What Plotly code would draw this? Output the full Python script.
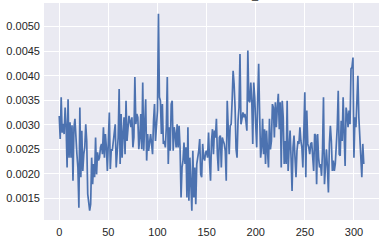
import plotly.graph_objects as go

seg1 = [0.00318, 0.00271, 0.00356, 0.00284, 0.00302, 0.00281, 0.00335, 0.00298, 0.00213, 0.00352,
        0.00233, 0.00305, 0.00233, 0.00299, 0.00186, 0.00295, 0.00312, 0.00254, 0.00240, 0.00213,
        0.00131, 0.00335, 0.00193, 0.00288, 0.00206, 0.00240, 0.00254, 0.00301, 0.00267, 0.00159,
        0.00145, 0.00125, 0.00138, 0.00233, 0.00179, 0.00220]
seg2 = [0.00193, 0.00274, 0.00199, 0.00244, 0.00227, 0.00233, 0.00254, 0.00261, 0.00240, 0.00295,
        0.00233, 0.00281, 0.00254, 0.00206, 0.00267, 0.00325, 0.00210, 0.00250, 0.00247, 0.00267,
        0.00281, 0.00301, 0.00213, 0.00254, 0.00274, 0.00373, 0.00220, 0.00322, 0.00233, 0.00281,
        0.00315, 0.00240, 0.00349, 0.00267, 0.00295, 0.00318, 0.00308, 0.00295, 0.00315, 0.00254,
        0.00274, 0.00397, 0.00301, 0.00322, 0.00315, 0.00250, 0.00274]
seg3 = [0.00322, 0.00250, 0.00386, 0.00247, 0.00295, 0.00352, 0.00227, 0.00281, 0.00247, 0.00274,
        0.00281, 0.00261, 0.00240, 0.00308, 0.00342, 0.00267, 0.00301, 0.00329, 0.00526, 0.00356,
        0.00349, 0.00281, 0.00342, 0.00261, 0.00267, 0.00254, 0.00295, 0.00397, 0.00220, 0.00295,
        0.00247, 0.00342, 0.00349, 0.00247, 0.00295, 0.00281, 0.00254, 0.00301, 0.00254, 0.00298,
        0.00254, 0.00152, 0.00213, 0.00227, 0.00264, 0.00220, 0.00254, 0.00152, 0.00295]
seg4 = [0.00145, 0.00233, 0.00172, 0.00125, 0.00247, 0.00152, 0.00213, 0.00138, 0.00220, 0.00233,
        0.00247, 0.00271, 0.00199, 0.00193, 0.00261, 0.00233, 0.00227, 0.00244, 0.00247, 0.00233,
        0.00284, 0.00227, 0.00186, 0.00267, 0.00291, 0.00240, 0.00288, 0.00274, 0.00312, 0.00240,
        0.00206, 0.00274, 0.00278, 0.00213, 0.00274, 0.00267, 0.00261, 0.00247, 0.00186, 0.00349,
        0.00281, 0.00240, 0.00298, 0.00301, 0.00349, 0.00410, 0.00383, 0.00335, 0.00250]
seg5 = [0.00233, 0.00308, 0.00335, 0.00444, 0.00301, 0.00312, 0.00325, 0.00315, 0.00322, 0.00308,
        0.00288, 0.00451, 0.00349, 0.00346, 0.00386, 0.00349, 0.00261, 0.00386, 0.00356, 0.00301,
        0.00254, 0.00349, 0.00424, 0.00322, 0.00233, 0.00254, 0.00312, 0.00240, 0.00291, 0.00220,
        0.00288, 0.00247, 0.00213, 0.00312, 0.00250, 0.00267, 0.00342, 0.00335, 0.00274, 0.00346,
        0.00295, 0.00335, 0.00363, 0.00291, 0.00346, 0.00213, 0.00349, 0.00315, 0.00220]
seg6 = [0.00267, 0.00220, 0.00349, 0.00206, 0.00254, 0.00288, 0.00233, 0.00165, 0.00254, 0.00278,
        0.00233, 0.00193, 0.00247, 0.00267, 0.00261, 0.00295, 0.00267, 0.00254, 0.00213, 0.00295,
        0.00366, 0.00193, 0.00329, 0.00261, 0.00254, 0.00240, 0.00261, 0.00264, 0.00233, 0.00206,
        0.00281, 0.00278, 0.00179, 0.00281, 0.00233, 0.00213, 0.00220, 0.00196, 0.00247, 0.00356,
        0.00179, 0.00227, 0.00250, 0.00213, 0.00162, 0.00261, 0.00298, 0.00267, 0.00206]
seg7 = [0.00227, 0.00206, 0.00220, 0.00254, 0.00295, 0.00369, 0.00240, 0.00237, 0.00308, 0.00267,
        0.00356, 0.00281, 0.00216, 0.00335, 0.00322, 0.00295, 0.00329, 0.00301, 0.00414, 0.00417,
        0.00437, 0.00233, 0.00315, 0.00295, 0.00349, 0.00400, 0.00315, 0.00261, 0.00220, 0.00193,
        0.00261, 0.00220]

values = seg1 + seg2 + seg3 + seg4 + seg5 + seg6 + seg7
steps = list(range(len(values)))

x_ticks = [0, 50, 100, 150, 200, 250, 300]
y_ticks = [0.0015, 0.0020, 0.0025, 0.0030, 0.0035, 0.0040, 0.0045, 0.0050]
title_text = "_"

fig = go.Figure()
fig.add_trace(go.Scatter(x=steps, y=values, mode="lines",
                         line=dict(color="#4C72B0", width=1.7), showlegend=False))

font = dict(family="Liberation Sans, Arial, sans-serif", size=11, color="#262626")
fig.update_layout(
    width=386, height=245,
    margin=dict(l=44, r=7, t=3, b=25),
    paper_bgcolor="white", plot_bgcolor="#EAEAF2",
    font=font,
    annotations=[dict(text=title_text, x=0.631, y=1, xref="paper", yref="paper",
                      xanchor="center", yanchor="bottom", showarrow=False,
                      font=dict(size=11, color="#262626"))],
)
fig.update_xaxes(range=[-15.5, 325.5], tickvals=x_ticks, showgrid=True, gridcolor="white",
                 gridwidth=1, zeroline=False, showline=False, ticks="", ticklabelstandoff=4)
fig.update_yaxes(range=[0.00106, 0.00548], tickvals=y_ticks, tickformat=".4f", showgrid=True,
                 gridcolor="white", gridwidth=1, zeroline=False, showline=False, ticks="",
                 ticklabelstandoff=3)

fig.write_html("out.html", config={"displayModeBar": False})
